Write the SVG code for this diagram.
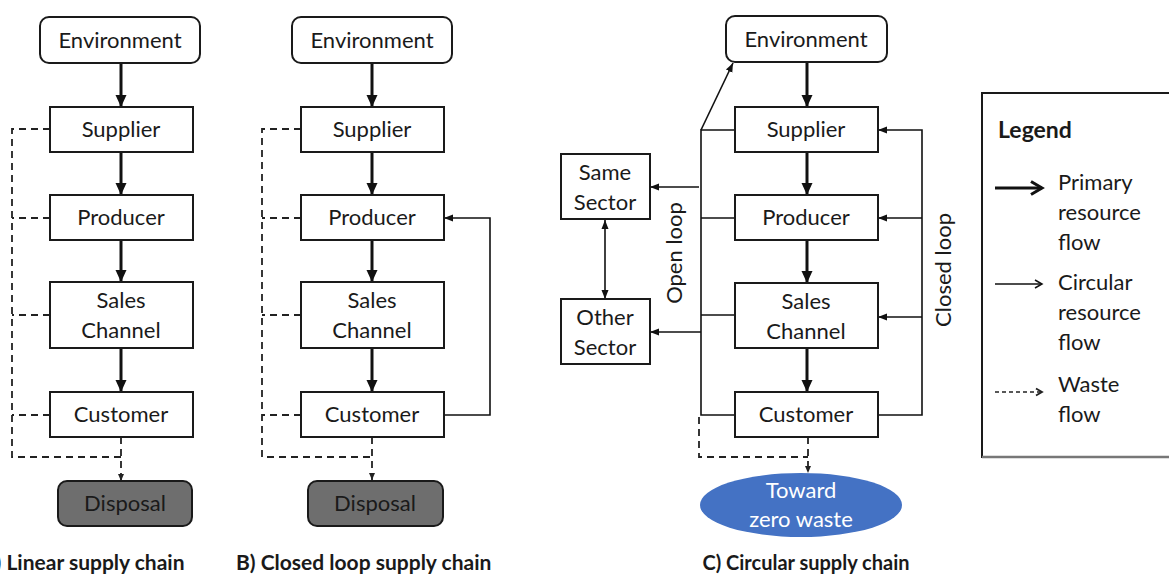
<svg xmlns="http://www.w3.org/2000/svg" width="1169" height="581" viewBox="0 0 1169 581">
<style>
text{font-family:Lato,"Open Sans","Liberation Sans",sans-serif;font-size:22px;fill:#1a1a1a}
.c{text-anchor:middle}
.b{font-weight:bold}
.box{fill:#fff;stroke:#1a1a1a;stroke-width:2}
.disp{fill:#6e6e6e;stroke:#1a1a1a;stroke-width:2}
.prim{stroke:#111;stroke-width:3;fill:none;marker-end:url(#hp)}
.thin{stroke:#111;stroke-width:1.6;fill:none}
.dash{stroke:#222;stroke-width:1.8;fill:none;stroke-dasharray:7 5}
</style>
<defs>
<marker id="hp" markerUnits="userSpaceOnUse" markerWidth="14" markerHeight="14" refX="12" refY="7" orient="auto"><path d="M0,1.5 L12,7 L0,12.5 Z" fill="#111"/></marker>
<marker id="ht" markerUnits="userSpaceOnUse" markerWidth="10" markerHeight="10" refX="9" refY="5" orient="auto-start-reverse"><path d="M0,1.5 L9,5 L0,8.5 Z" fill="#111"/></marker>
<marker id="hd" markerUnits="userSpaceOnUse" markerWidth="8" markerHeight="8" refX="7" refY="4" orient="auto"><path d="M0,1 L7,4 L0,7 Z" fill="#222"/></marker>
<marker id="lp" markerUnits="userSpaceOnUse" markerWidth="16" markerHeight="16" refX="13" refY="8" orient="auto"><path d="M2,1.5 L13,8 L2,14.5" fill="none" stroke="#111" stroke-width="3"/></marker>
<marker id="lt" markerUnits="userSpaceOnUse" markerWidth="12" markerHeight="12" refX="10" refY="6" orient="auto"><path d="M3,2 L10,6 L3,10" fill="none" stroke="#111" stroke-width="1.5"/></marker>
<marker id="ld" markerUnits="userSpaceOnUse" markerWidth="12" markerHeight="12" refX="10" refY="6" orient="auto"><path d="M4,2.5 L10,6 L4,9.5" fill="none" stroke="#222" stroke-width="1.8"/></marker>
</defs>

<g id="connectors">
<!-- Panel A -->
<line class="prim" x1="121" y1="63" x2="121" y2="107"/>
<line class="prim" x1="121" y1="152" x2="121" y2="195"/>
<line class="prim" x1="121" y1="240" x2="121" y2="282"/>
<line class="prim" x1="121" y1="348" x2="121" y2="392"/>
<path class="dash" d="M50,129 H12 V457 H121"/>
<line class="dash" x1="50" y1="218" x2="12" y2="218"/>
<line class="dash" x1="50" y1="315" x2="12" y2="315"/>
<line class="dash" x1="50" y1="415" x2="12" y2="415"/>
<path class="dash" d="M121,437 V481" marker-end="url(#hd)"/>
<!-- Panel B -->
<line class="prim" x1="372" y1="63" x2="372" y2="107"/>
<line class="prim" x1="372" y1="152" x2="372" y2="195"/>
<line class="prim" x1="372" y1="240" x2="372" y2="282"/>
<line class="prim" x1="372" y1="348" x2="372" y2="392"/>
<path class="dash" d="M301,129 H262 V457 H372"/>
<line class="dash" x1="301" y1="218" x2="262" y2="218"/>
<line class="dash" x1="301" y1="315" x2="262" y2="315"/>
<line class="dash" x1="301" y1="415" x2="262" y2="415"/>
<path class="dash" d="M372,437 V480" marker-end="url(#hd)"/>
<path class="thin" d="M444,415 H490 V218 H444" marker-end="url(#ht)"/>
<!-- Panel C -->
<line class="prim" x1="807" y1="62" x2="807" y2="107"/>
<line class="prim" x1="807" y1="152" x2="807" y2="195"/>
<line class="prim" x1="807" y1="240" x2="807" y2="283"/>
<line class="prim" x1="807" y1="348" x2="807" y2="392"/>
<path class="thin" d="M735,130 H701 V415 H735"/>
<line class="thin" x1="735" y1="218" x2="701" y2="218"/>
<line class="thin" x1="735" y1="315" x2="701" y2="315"/>
<line class="thin" x1="701" y1="130" x2="733" y2="63" marker-end="url(#ht)"/>
<line class="thin" x1="699" y1="187" x2="650" y2="187" marker-end="url(#ht)"/>
<line class="thin" x1="701" y1="332" x2="650" y2="332" marker-end="url(#ht)"/>
<line class="thin" x1="605" y1="220" x2="605" y2="299" marker-start="url(#ht)" marker-end="url(#ht)"/>
<path class="thin" d="M878,415 H922 V130 H878" marker-end="url(#ht)"/>
<line class="thin" x1="922" y1="218" x2="878" y2="218" marker-end="url(#ht)"/>
<line class="thin" x1="922" y1="317" x2="878" y2="317" marker-end="url(#ht)"/>
<path class="dash" d="M699,417 V457 H808"/>
<path class="dash" d="M808,437 V473" marker-end="url(#hd)"/>
</g>

<!-- Panel A nodes -->
<g id="a-environment"><rect class="box" x="40" y="17" width="160" height="46" rx="9"/><text class="c" x="120" y="48">Environment</text></g>
<g id="a-supplier"><rect class="box" x="50" y="107" width="143" height="45"/><text class="c" x="121" y="137">Supplier</text></g>
<g id="a-producer"><rect class="box" x="50" y="195" width="143" height="45"/><text class="c" x="121" y="225">Producer</text></g>
<g id="a-sales"><rect class="box" x="50" y="282" width="143" height="66"/><text class="c" x="121" y="308">Sales</text><text class="c" x="121" y="338">Channel</text></g>
<g id="a-customer"><rect class="box" x="50" y="392" width="143" height="45"/><text class="c" x="121" y="422">Customer</text></g>
<g id="a-disposal"><rect class="disp" x="58" y="481" width="134" height="45" rx="9"/><text class="c" x="125" y="511">Disposal</text></g>

<!-- Panel B nodes -->
<g id="b-environment"><rect class="box" x="292" y="17" width="160" height="46" rx="9"/><text class="c" x="372" y="48">Environment</text></g>
<g id="b-supplier"><rect class="box" x="301" y="107" width="143" height="45"/><text class="c" x="372" y="137">Supplier</text></g>
<g id="b-producer"><rect class="box" x="301" y="195" width="143" height="45"/><text class="c" x="372" y="225">Producer</text></g>
<g id="b-sales"><rect class="box" x="301" y="282" width="143" height="66"/><text class="c" x="372" y="308">Sales</text><text class="c" x="372" y="338">Channel</text></g>
<g id="b-customer"><rect class="box" x="301" y="392" width="143" height="45"/><text class="c" x="372" y="422">Customer</text></g>
<g id="b-disposal"><rect class="disp" x="308" y="481" width="135" height="45" rx="9"/><text class="c" x="375" y="511">Disposal</text></g>

<!-- Panel C nodes -->
<g id="c-environment"><rect class="box" x="726" y="16" width="161" height="46" rx="9"/><text class="c" x="806" y="47">Environment</text></g>
<g id="c-supplier"><rect class="box" x="735" y="107" width="143" height="45"/><text class="c" x="806" y="137">Supplier</text></g>
<g id="c-producer"><rect class="box" x="735" y="195" width="143" height="45"/><text class="c" x="806" y="225">Producer</text></g>
<g id="c-sales"><rect class="box" x="735" y="283" width="143" height="65"/><text class="c" x="806" y="309">Sales</text><text class="c" x="806" y="339">Channel</text></g>
<g id="c-customer"><rect class="box" x="735" y="392" width="143" height="45"/><text class="c" x="806" y="422">Customer</text></g>
<g id="c-same"><rect class="box" x="561" y="154" width="89" height="65"/><text class="c" x="605" y="180">Same</text><text class="c" x="605" y="210">Sector</text></g>
<g id="c-other"><rect class="box" x="561" y="299" width="89" height="65"/><text class="c" x="605" y="325">Other</text><text class="c" x="605" y="355">Sector</text></g>
<g id="c-zero"><ellipse cx="801" cy="505" rx="101" ry="32" fill="#4472c4"/><text class="c" x="801" y="498" style="fill:#fff">Toward</text><text class="c" x="801" y="527" style="fill:#fff">zero waste</text></g>
<text class="c" transform="translate(682,253) rotate(-90)">Open loop</text>
<text class="c" transform="translate(951,270) rotate(-90)">Closed loop</text>

<!-- Legend -->
<g id="legend">
<rect x="982" y="93" width="200" height="364" fill="#fff" stroke="#1a1a1a" stroke-width="2"/>
<line x1="982" y1="457" x2="1169" y2="457" stroke="#777" stroke-width="2.5"/>
<text class="b" x="998" y="138" style="font-size:23px">Legend</text>
<line x1="995" y1="188" x2="1042" y2="188" stroke="#111" stroke-width="3" marker-end="url(#lp)"/>
<text x="1058" y="190">Primary</text><text x="1058" y="220">resource</text><text x="1058" y="250">flow</text>
<line x1="995" y1="284" x2="1042" y2="284" stroke="#111" stroke-width="1.5" marker-end="url(#lt)"/>
<text x="1058" y="290">Circular</text><text x="1058" y="320">resource</text><text x="1058" y="350">flow</text>
<line x1="995" y1="392" x2="1042" y2="392" stroke="#222" stroke-width="1.6" stroke-dasharray="4 3" marker-end="url(#ld)"/>
<text x="1058" y="392">Waste</text><text x="1058" y="422">flow</text>
</g>

<!-- Captions -->
<text class="b" x="-19" y="570" style="font-size:21px">A) Linear supply chain</text>
<text class="b" x="236" y="570" style="font-size:21px">B) Closed loop supply chain</text>
<text class="b c" x="806" y="570" style="font-size:20px">C) Circular supply chain</text>
</svg>
